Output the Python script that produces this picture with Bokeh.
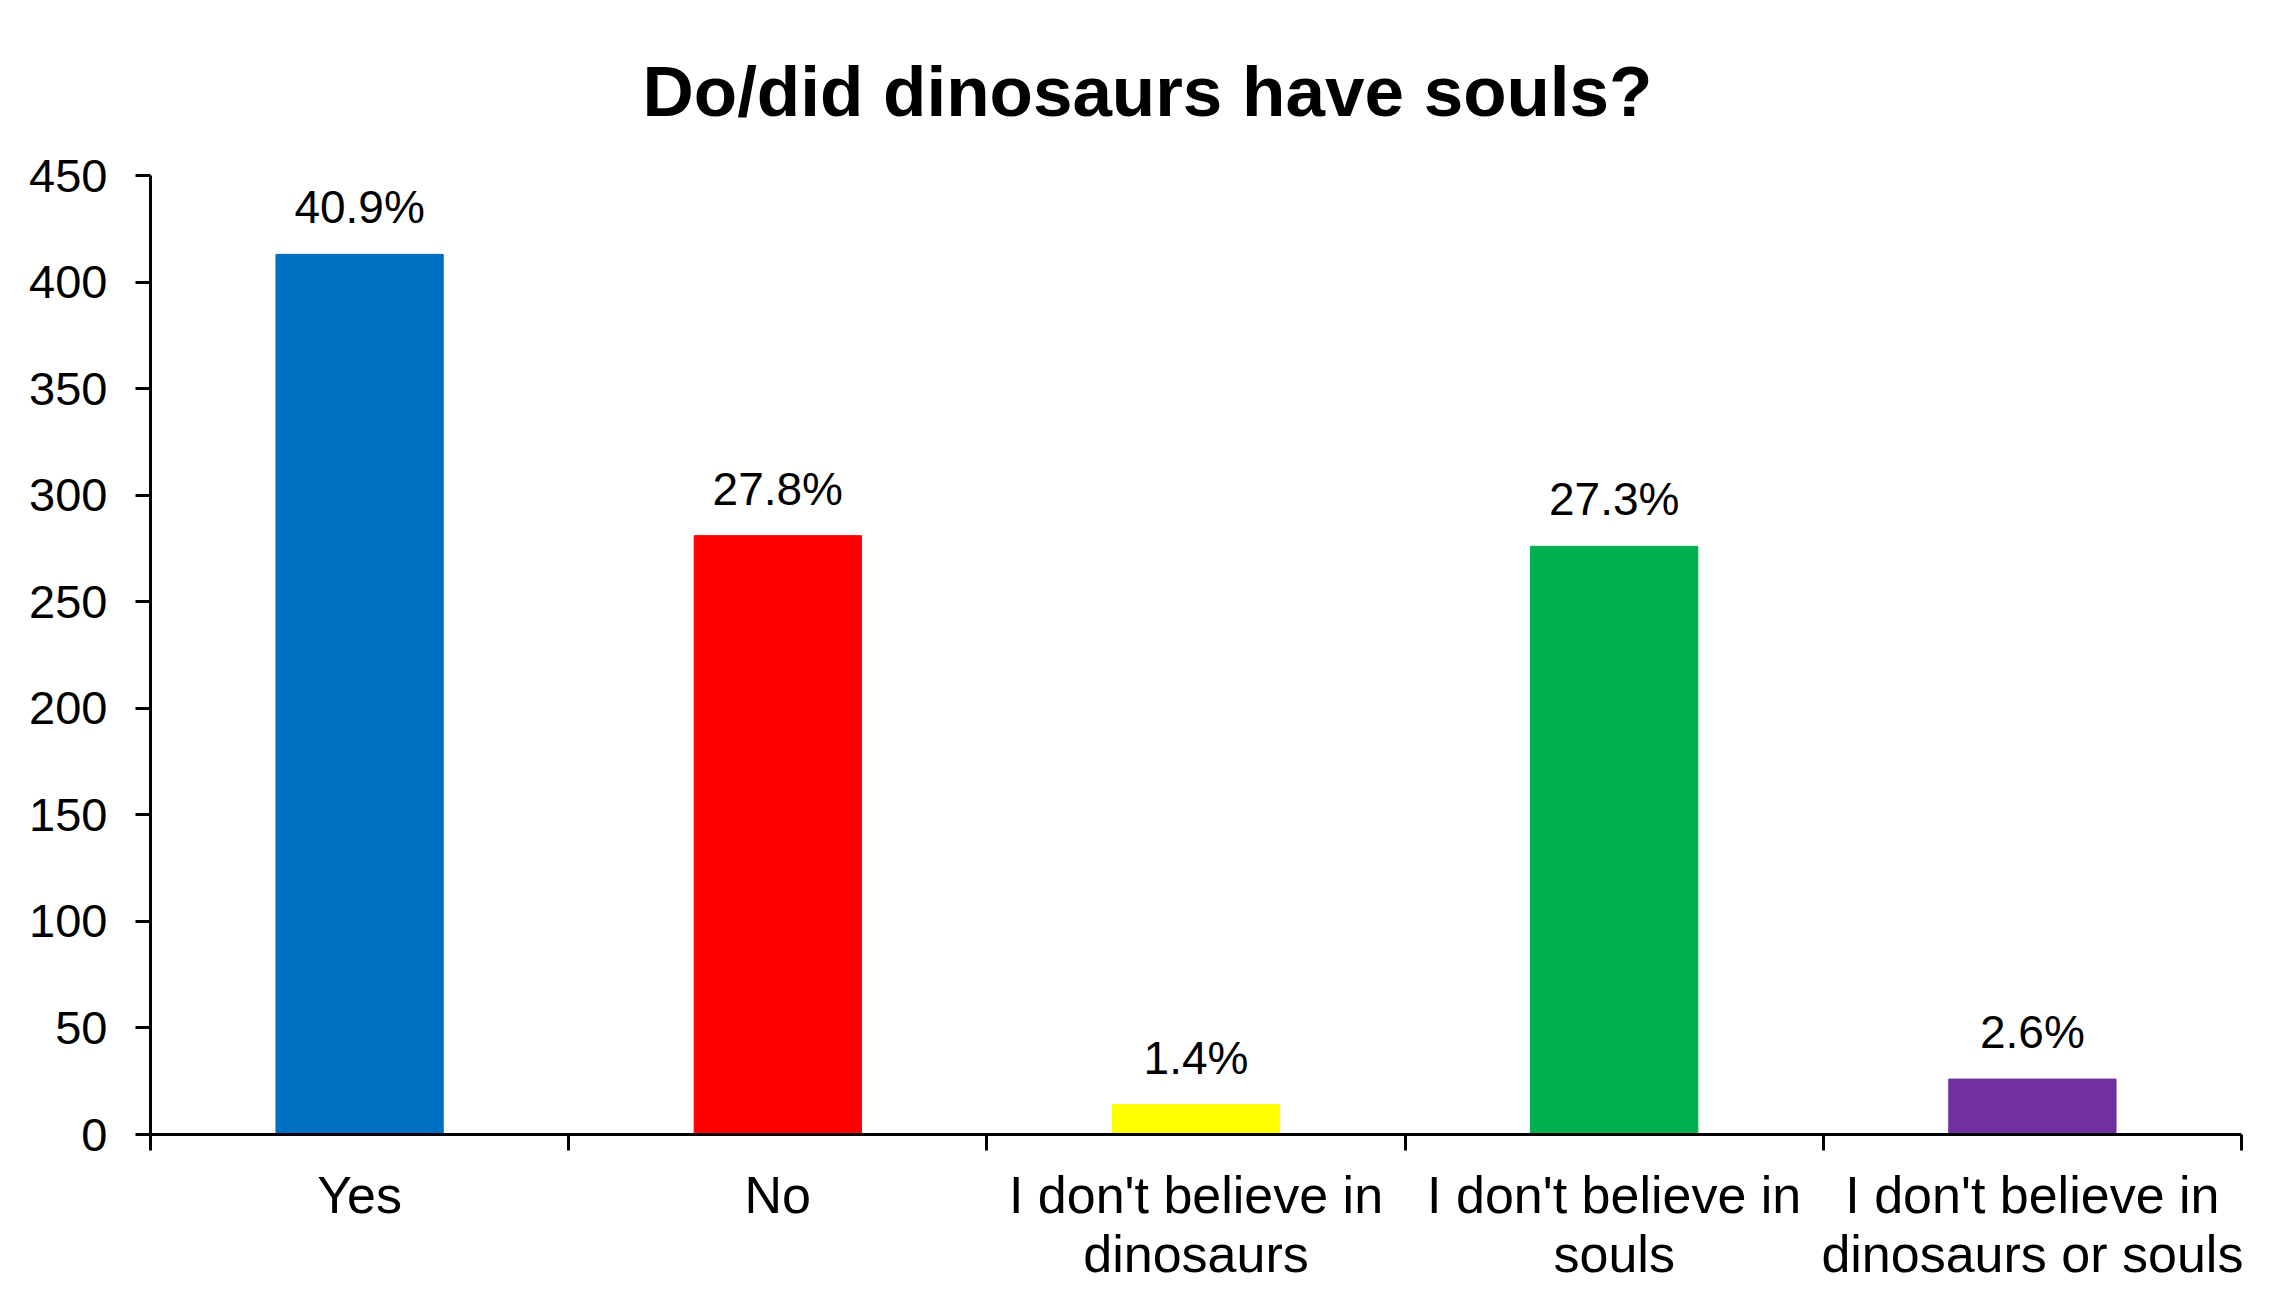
from bokeh.plotting import figure
from bokeh.models import ColumnDataSource, Range1d, FixedTicker, LinearAxis
from bokeh.embed import file_html
from bokeh.resources import INLINE
from bokeh.core.properties import value

# ---- data ----
categories = ["Yes", "No", "I don't believe in\ndinosaurs",
              "I don't believe in\nsouls", "I don't believe in\ndinosaurs or souls"]
counts = [413, 281, 14, 276, 26]
pct_labels = ["40.9%", "27.8%", "1.4%", "27.3%", "2.6%"]
bar_colors = ["#0070C0", "#FF0000", "#FFFF00", "#00B050", "#7030A0"]
y_ticks = [0, 50, 100, 150, 200, 250, 300, 350, 400, 450]
title_text = "Do/did dinosaurs have souls?"

FONT = "Liberation Sans"

n = len(categories)
centers = [i + 0.5 for i in range(n)]
bounds = [float(i) for i in range(n + 1)]

src = ColumnDataSource(dict(x=centers, top=counts, color=bar_colors, lab=pct_labels))

p = figure(width=2272, height=1290, x_range=Range1d(0, n), y_range=Range1d(0, 450),
           output_backend="svg", toolbar_location=None, x_axis_type=None,
           min_border_left=150, min_border_right=31, min_border_top=175,
           min_border_bottom=156)

p.title.text = title_text
p.title.align = "left"
p.title.offset = 492
p.title.vertical_align = "top"
p.title.text_font = FONT
p.title.text_font_size = "71px"
p.title.text_font_style = "bold"
p.title.text_color = "#000000"
p.title.standoff = 86

p.outline_line_color = None
p.xgrid.visible = False
p.ygrid.visible = False
p.background_fill_color = "white"
p.border_fill_color = "white"

p.vbar(x="x", top="top", width=0.4, bottom=0, color="color", source=src)
p.text(x="x", y="top", text="lab", source=src, text_align="center",
       text_baseline="alphabetic", y_offset=-47, text_font=value(FONT),
       text_font_size="46px", text_color="#000000")

# y axis
ya = p.yaxis[0]
ya.ticker = FixedTicker(ticks=y_ticks, minor_ticks=[])
ya.axis_line_width = 3
ya.axis_line_color = "#000000"
ya.major_tick_line_width = 3
ya.major_tick_line_color = "#000000"
ya.major_tick_out = 15
ya.major_tick_in = 0
ya.minor_tick_line_color = None
ya.major_label_text_font = FONT
ya.major_label_text_font_size = "47px"
ya.major_label_text_color = "#000000"
ya.major_label_standoff = 28

# x axis: labels at centers, ticks at category boundaries
xa = LinearAxis(ticker=FixedTicker(ticks=centers, minor_ticks=bounds))
xa.major_label_overrides = {c: lab for c, lab in zip(centers, categories)}
xa.axis_line_width = 3
xa.axis_line_color = "#000000"
xa.major_tick_line_color = None
xa.major_tick_out = 16
xa.major_tick_in = 0
xa.minor_tick_line_color = "#000000"
xa.minor_tick_line_width = 3
xa.minor_tick_out = 16
xa.minor_tick_in = 0
xa.major_label_text_font = FONT
xa.major_label_text_font_size = "52px"
xa.major_label_text_color = "#000000"
xa.major_label_text_line_height = 1.03
xa.major_label_standoff = 15
p.add_layout(xa, "below")

open("out.html", "w").write(file_html(p, INLINE))
